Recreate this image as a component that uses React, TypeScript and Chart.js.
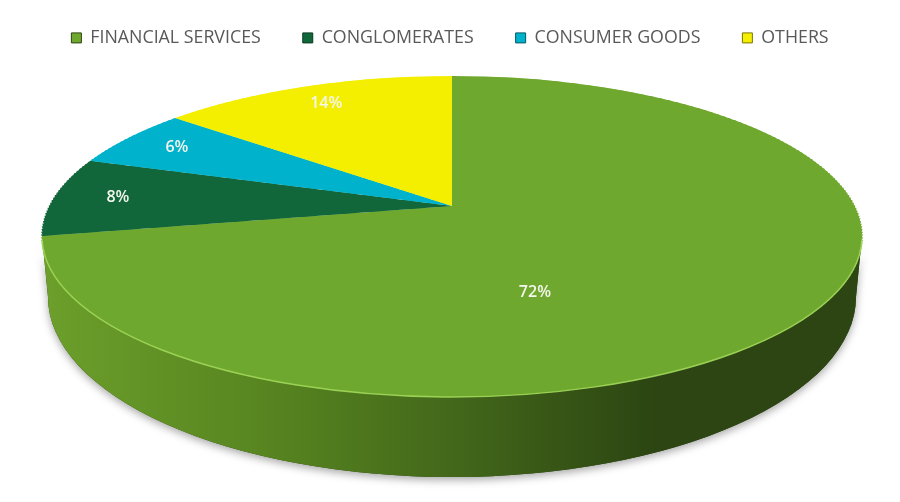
import React, { useEffect, useRef } from 'react';
import { Chart, registerables } from 'chart.js';

Chart.register(...registerables);

// ---- data ----
const categories = ['FINANCIAL SERVICES', 'CONGLOMERATES', 'CONSUMER GOODS', 'OTHERS'];
const shares = [72, 8, 6, 14];
const sliceColors = ['#6fa82e', '#12673a', '#00b2cb', '#f4ef00'];
const sideDark = ['#2c4512', '#0a3a20', '#005a66', '#7a7600'];
const sideLight = ['#6c9f2b', '#0f5a32', '#009db3', '#d8d300'];

// ---- perspective view of the pie (screen px) ----
const OFF = 13; // canvas is shifted up by this amount
const VIEW = {
  cx: 452,
  y0: 206 + OFF, // projected centre of the disc
  A: 402.5,
  B: 154.7,
  K: 0.19, // perspective strength
  // outline of the top face (ellipse) and bottom face
  cyTop: 236.5 + OFF,
  rxTop: 410,
  ryTop: 160.5,
  cyBot: 297 + OFF,
  rxBot: 404,
  ryBot: 180,
};

function project(u: number, v: number): [number, number] {
  const s = 1 / (1 - VIEW.K * v);
  return [VIEW.cx + VIEW.A * u * s, VIEW.y0 + VIEW.B * v * s];
}

const pie3d = {
  id: 'pie3d',
  beforeDatasetDraw() {
    return false; // drawn by this plugin through a perspective mapping
  },
  afterDatasetsDraw(chart: any) {
    const meta = chart.getDatasetMeta(0);
    const arcs = meta.data;
    if (!arcs.length) return;
    const ctx: CanvasRenderingContext2D = chart.ctx;
    const { cx, cyTop, rxTop, ryTop, cyBot, rxBot, ryBot, A, B, K, y0 } = VIEW;

    // which slice faces the viewer (front of the side wall)
    let frontIdx = 0;
    arcs.forEach((arc: any, i: number) => {
      const { startAngle, endAngle } = arc.getProps(['startAngle', 'endAngle'], true);
      const f = Math.PI / 2;
      if ((f >= startAngle && f <= endAngle) || (f + 2 * Math.PI >= startAngle && f + 2 * Math.PI <= endAngle)) frontIdx = i;
    });

    // side wall with shadow
    const wall = () => {
      ctx.beginPath();
      ctx.ellipse(cx, cyTop, rxTop, ryTop, 0, 0, Math.PI);
      ctx.ellipse(cx, cyBot, rxBot, ryBot, 0, Math.PI, 0, true);
      ctx.closePath();
    };
    ctx.save();
    ctx.shadowColor = 'rgba(0,0,0,0.35)';
    ctx.shadowBlur = 9;
    ctx.shadowOffsetY = 3;
    wall();
    ctx.fillStyle = sideDark[frontIdx];
    ctx.fill();
    ctx.restore();
    ctx.save();
    const g = ctx.createLinearGradient(cx - rxTop, 0, cx + rxTop, 0);
    g.addColorStop(0, sideLight[frontIdx]);
    g.addColorStop(0.3, '#55821f');
    g.addColorStop(0.52, '#41651a');
    g.addColorStop(0.75, sideDark[frontIdx]);
    g.addColorStop(1, sideDark[frontIdx]);
    wall();
    ctx.fillStyle = g;
    ctx.fill();
    ctx.restore();

    // top face: library arcs drawn through strip-wise perspective mapping
    const { x, y, outerRadius: R } = arcs[0].getProps(['x', 'y', 'outerRadius'], true);
    const N = 120;
    for (let j = 0; j < N; j++) {
      const v0 = -1 + (2 * j) / N;
      const v1 = -1 + (2 * (j + 1)) / N;
      const vm = (v0 + v1) / 2;
      const s = 1 / (1 - K * vm);
      const Ym = y0 + B * vm * s;
      const dY = B * s * s;
      ctx.save();
      ctx.transform((A * s) / R, 0, 0, dY / R, cx - (A * s * x) / R, Ym - dY * vm - (dY * y) / R);
      const pad = (v1 - v0) * 0.3;
      ctx.beginPath();
      ctx.rect(x - R - 5, y + R * (v0 - pad), 2 * R + 10, R * (v1 - v0 + 2 * pad));
      ctx.clip();
      arcs.forEach((a: any) => a.draw(ctx));
      ctx.restore();
    }

    // light rim on the front edge of the top face
    ctx.save();
    ctx.beginPath();
    ctx.ellipse(cx, cyTop, rxTop, ryTop, 0, 0.02, Math.PI - 0.02);
    ctx.strokeStyle = 'rgba(160,215,90,0.9)';
    ctx.lineWidth = 1.5;
    ctx.stroke();
    ctx.restore();

    // percentage labels
    const total = shares.reduce((sum, val) => sum + val, 0);
    ctx.save();
    ctx.fillStyle = '#f4f6ee';
    ctx.font = '600 16px "Open Sans"';
    ctx.textAlign = 'center';
    ctx.textBaseline = 'middle';
    arcs.forEach((arc: any, i: number) => {
      const { startAngle, endAngle } = arc.getProps(['startAngle', 'endAngle'], true);
      let mid = (startAngle + endAngle) / 2;
      let frac = 0.84;
      if (shares[i] / total > 0.5) {
        mid = mid + 0.6 * (Math.PI / 2 - mid);
        frac = 0.54;
      }
      const [lx, ly] = project(frac * Math.cos(mid), frac * Math.sin(mid));
      ctx.fillText(Math.round((shares[i] / total) * 100) + '%', lx, ly);
    });
    ctx.restore();
  },
};

export default function App() {
  const ref = useRef<HTMLCanvasElement | null>(null);
  useEffect(() => {
    if (!ref.current) return;
    const chart = new Chart(ref.current, {
      type: 'pie',
      data: {
        labels: categories,
        datasets: [
          {
            data: shares,
            backgroundColor: sliceColors,
            borderWidth: 0,
            clip: false as any,
          },
        ],
      },
      options: {
        responsive: false,
        animation: false,
        layout: { padding: 0 },
        plugins: {
          legend: {
            position: 'top',
            labels: {
              boxWidth: 10,
              boxHeight: 10,
              padding: 42,
              color: '#595959',
              font: { family: 'Open Sans', size: 17.8 },
              generateLabels: () =>
                categories.map((t, i) => ({
                  text: t,
                  fillStyle: sliceColors[i],
                  strokeStyle: sideDark[i],
                  lineWidth: 1,
                  fontColor: '#595959',
                  hidden: false,
                  index: i,
                  datasetIndex: 0,
                })),
            },
          },
          tooltip: { enabled: false },
        },
      },
      plugins: [pie3d],
    });
    return () => chart.destroy();
  }, []);
  return (
    <div style={{ position: 'fixed', left: 0, top: 0, width: 900, height: 502, overflow: 'hidden', background: '#fff' }}>
      <canvas
        ref={ref}
        width={900}
        height={502 + OFF}
        style={{ position: 'absolute', left: 0, top: -OFF, width: 900, height: 502 + OFF }}
      />
    </div>
  );
}
